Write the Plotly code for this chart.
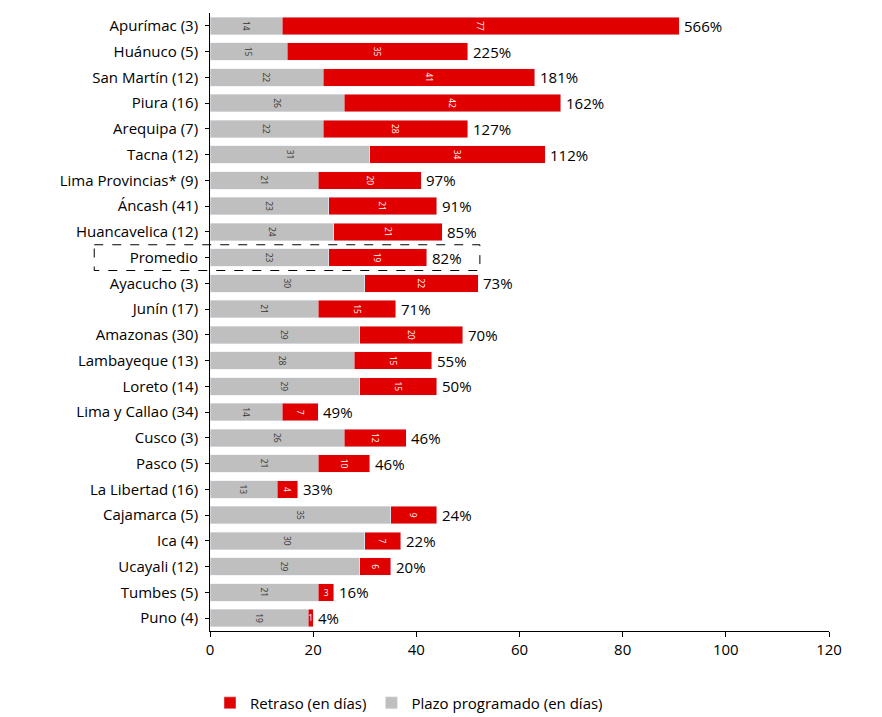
import plotly.graph_objects as go

regions = ["Apurímac (3)", "Huánuco (5)", "San Martín (12)", "Piura (16)", "Arequipa (7)",
           "Tacna (12)", "Lima Provincias* (9)", "Áncash (41)", "Huancavelica (12)", "Promedio",
           "Ayacucho (3)", "Junín (17)", "Amazonas (30)", "Lambayeque (13)", "Loreto (14)",
           "Lima y Callao (34)", "Cusco (3)", "Pasco (5)", "La Libertad (16)", "Cajamarca (5)",
           "Ica (4)", "Ucayali (12)", "Tumbes (5)", "Puno (4)"]
plazo = [14, 15, 22, 26, 22, 31, 21, 23, 24, 23, 30, 21, 29, 28, 29, 14, 26, 21, 13, 35, 30, 29, 21, 19]
retraso = [77, 35, 41, 42, 28, 34, 20, 21, 21, 19, 22, 15, 20, 15, 15, 7, 12, 10, 4, 9, 7, 6, 3, 1]
pct = ["566%", "225%", "181%", "162%", "127%", "112%", "97%", "91%", "85%", "82%",
       "73%", "71%", "70%", "55%", "50%", "49%", "46%", "46%", "33%", "24%",
       "22%", "20%", "16%", "4%"]

font = "Open Sans"
fig = go.Figure()
fig.add_bar(y=regions, x=plazo, orientation="h", name="Plazo programado (en días)",
            marker_color="#BFBFBF", text=plazo, textposition="inside", insidetextanchor="middle",
            textfont=dict(color="#333333", size=14))
fig.add_bar(y=regions, x=retraso, orientation="h", name="Retraso (en días)",
            marker_color="#E00000", text=retraso, textposition="inside", insidetextanchor="middle",
            textfont=dict(color="white", size=14))

for r, p, d, t in zip(regions, plazo, retraso, pct):
    fig.add_annotation(x=p + d, y=r, text=t, xanchor="left", showarrow=False, xshift=3,
                       font=dict(size=15, color="#000000"))

fig.add_shape(type="rect", xref="paper", yref="y", x0=-0.187, x1=0.436, y0=8.5, y1=9.5,
              line=dict(color="black", width=1, dash="dash"))

fig.update_layout(
    barmode="stack", bargap=0.32, width=882, height=717,
    plot_bgcolor="white", paper_bgcolor="white",
    margin=dict(l=202, r=61, t=5, b=77),
    font=dict(family=font, size=15, color="#000000"),
    uniformtext=dict(minsize=8, mode="show"),
    xaxis=dict(range=[0, 120], dtick=20, showgrid=False, showline=True, linecolor="#000000",
               ticks="outside", ticklen=5, tickcolor="#000000", tickfont=dict(size=15)),
    yaxis=dict(autorange="reversed", showline=True, linecolor="#000000", ticks="outside",
               ticklen=4, tickcolor="#000000", tickfont=dict(size=15), ticksuffix=" "),
    legend=dict(orientation="h", x=0.0, xanchor="left", y=-0.09, yanchor="top",
                font=dict(size=15)),
)
fig.write_html("out.html")
